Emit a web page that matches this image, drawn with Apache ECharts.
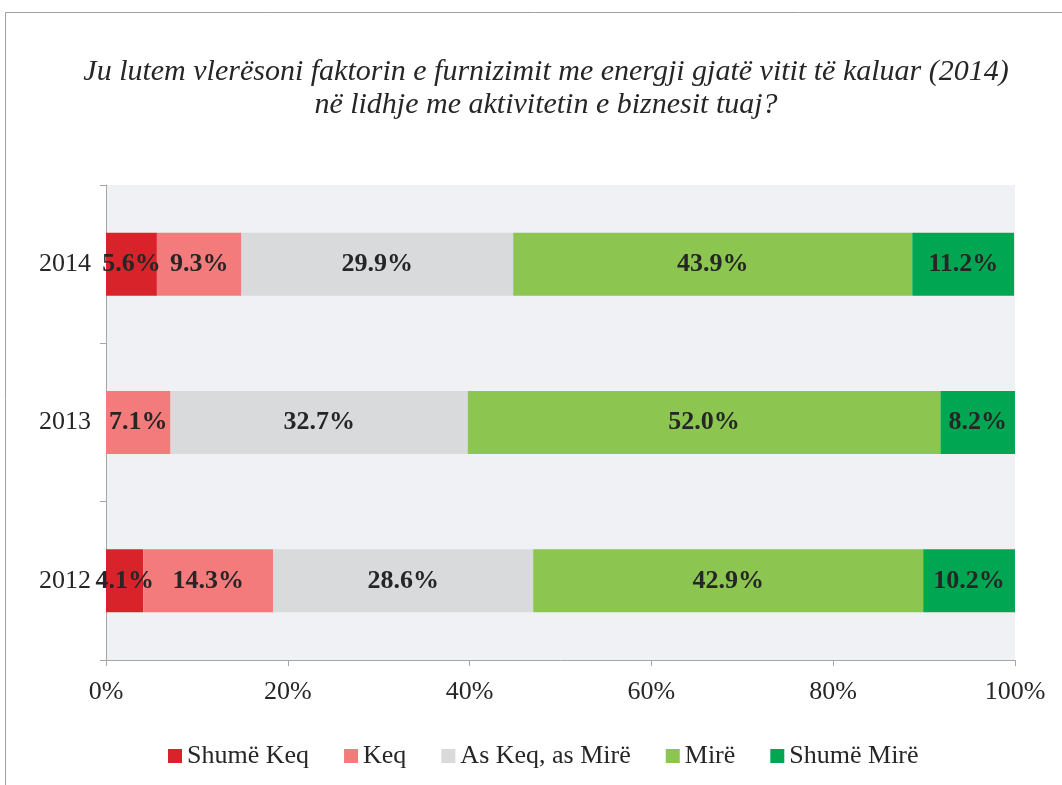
<!DOCTYPE html>
<html>
<head>
<meta charset="utf-8">
<script src="https://cdn.jsdelivr.net/npm/echarts@6/dist/echarts.min.js"></script>
<style>
  html, body { margin: 0; padding: 0; background: #fff; }
  #chart { width: 1062px; height: 785px; }
</style>
</head>
<body>
<div id="chart"></div>
<script>
// data
const years = ['2012', '2013', '2014'];
const seriesNames = ['Shumë Keq', 'Keq', 'As Keq, as Mirë', 'Mirë', 'Shumë Mirë'];
const shumeKeq = [4.1, 0, 5.6];
const keq = [14.3, 7.1, 9.3];
const asKeqAsMire = [28.6, 32.7, 29.9];
const mire = [42.9, 52.0, 43.9];
const shumeMire = [10.2, 8.2, 11.2];
const xTicks = [0, 20, 40, 60, 80, 100];

const colors = ['#d9232b', '#f47b7c', '#d9dadc', '#8cc54f', '#00a651'];
const values = [shumeKeq, keq, asKeqAsMire, mire, shumeMire];

const chart = echarts.init(document.getElementById('chart'));

chart.setOption({
  animation: false,
  title: {
    text: 'Ju lutem vlerësoni faktorin e furnizimit me energji gjatë vitit të kaluar (2014)\nnë lidhje me aktivitetin e biznesit tuaj?',
    left: 541,
    textAlign: 'center',
    top: 51,
    textStyle: {
      fontFamily: 'Liberation Serif',
      fontStyle: 'italic',
      fontWeight: 'normal',
      fontSize: 30,
      lineHeight: 33,
      color: '#262626'
    }
  },
  graphic: [{
    type: 'rect',
    shape: { x: 5.5, y: 12.5, width: 1100, height: 900 },
    style: { fill: 'none', stroke: '#a0a0a0', lineWidth: 1 },
    silent: true
  }],
  grid: {
    left: 106, right: 47, top: 185, bottom: 125,
    show: true, backgroundColor: '#f0f1f4', borderWidth: 0
  },
  legend: {
    bottom: 11,
    left: 163,
    itemWidth: 14,
    itemHeight: 14,
    itemGap: 35,
    icon: 'rect',
    textStyle: { fontFamily: 'Liberation Serif', fontSize: 26, color: '#262626' },
    data: seriesNames
  },
  xAxis: {
    type: 'value',
    min: 0,
    max: 100,
    interval: 20,
    axisLine: { show: true, lineStyle: { color: '#a6a6a6' } },
    axisTick: { show: true, length: 6, lineStyle: { color: '#a6a6a6' } },
    splitLine: { show: false },
    axisLabel: {
      formatter: v => xTicks.includes(v) ? v + '%' : '',
      fontFamily: 'Liberation Serif',
      fontSize: 26,
      color: '#262626',
      margin: 19
    }
  },
  yAxis: {
    type: 'category',
    data: years,
    axisLine: { show: true, lineStyle: { color: '#a6a6a6' } },
    axisTick: { show: true, length: 6, lineStyle: { color: '#a6a6a6' } },
    axisLabel: {
      fontFamily: 'Liberation Serif',
      fontSize: 26,
      color: '#262626',
      margin: 15
    }
  },
  series: seriesNames.map((name, i) => ({
    name,
    type: 'bar',
    stack: 'total',
    barWidth: 63,
    itemStyle: { color: colors[i] },
    label: {
      show: true,
      position: 'inside',
      formatter: p => p.value > 0 ? p.value.toFixed(1) + '%' : '',
      fontFamily: 'Liberation Serif',
      fontWeight: 'bold',
      fontSize: 26,
      color: '#262626'
    },
    data: values[i]
  }))
});
</script>
</body>
</html>
